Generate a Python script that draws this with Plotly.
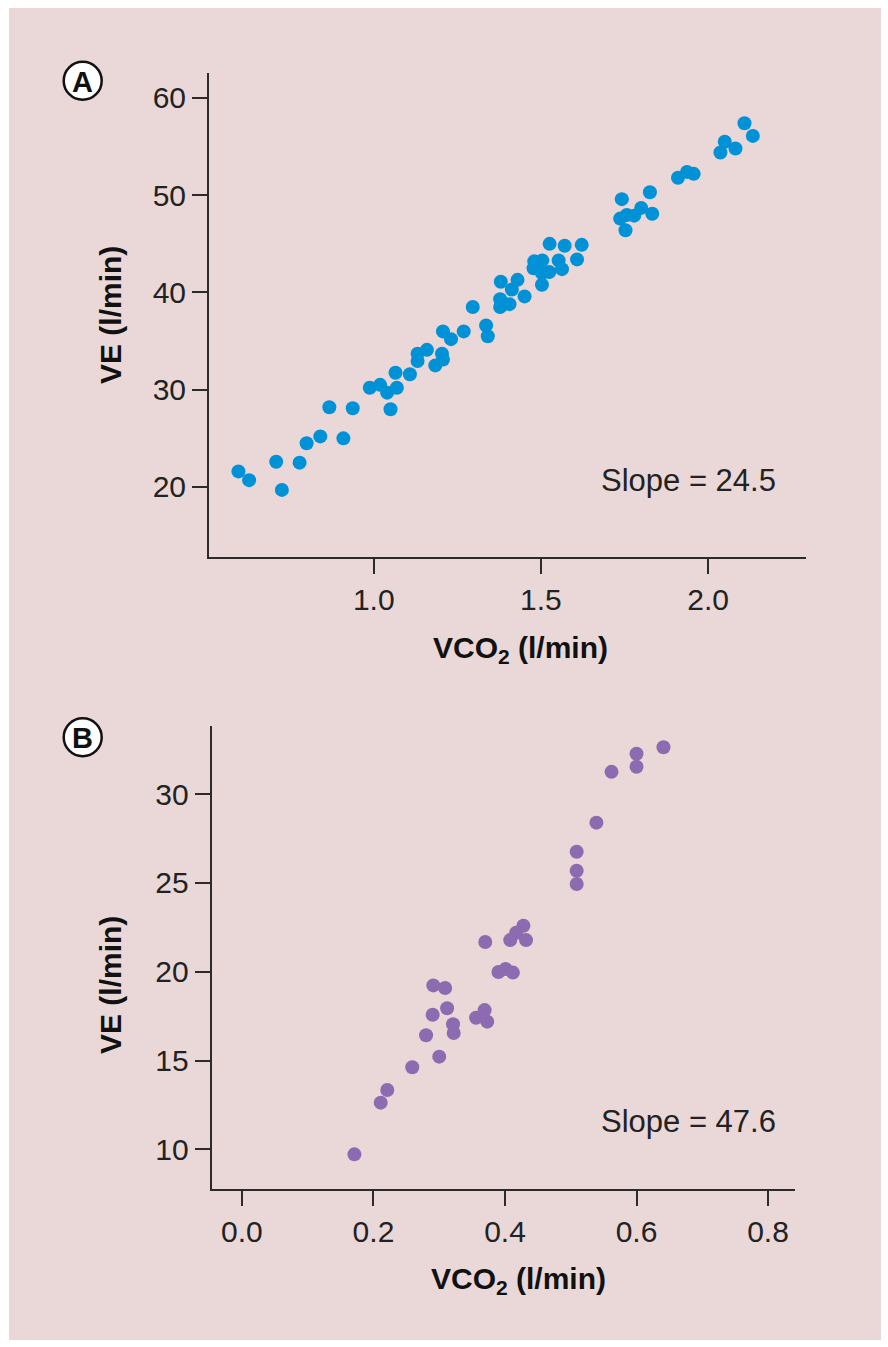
import plotly.graph_objects as go

W, H = 888, 1347

# Panel A data (VCO2 l/min, VE l/min)
a_vco2 = [0.595, 0.627, 0.708, 0.725, 0.778, 0.799, 0.840, 0.867, 0.909, 0.937,
          0.988, 1.019, 1.040, 1.069, 1.050, 1.065, 1.108, 1.131, 1.131, 1.159,
          1.204, 1.207, 1.184, 1.207, 1.231, 1.269, 1.296, 1.336, 1.341, 1.378,
          1.380, 1.378, 1.430, 1.413, 1.406, 1.451, 1.480, 1.478, 1.504, 1.503,
          1.503, 1.526, 1.525, 1.553, 1.563, 1.571, 1.608, 1.622, 1.742, 1.737,
          1.757, 1.753, 1.779, 1.800, 1.833, 1.826, 1.910, 1.937, 1.957, 2.037,
          2.050, 2.082, 2.109, 2.134]
a_ve = [21.6, 20.7, 22.6, 19.7, 22.5, 24.5, 25.2, 28.2, 25.0, 28.1,
        30.2, 30.5, 29.7, 30.2, 28.0, 31.75, 31.6, 33.7, 32.95, 34.1,
        33.7, 33.1, 32.5, 36.0, 35.2, 36.0, 38.5, 36.6, 35.5, 38.5,
        41.1, 39.3, 41.3, 40.3, 38.8, 39.6, 43.2, 42.5, 43.3, 42.0,
        40.8, 45.0, 42.1, 43.3, 42.4, 44.8, 43.4, 44.9, 49.6, 47.6,
        47.97, 46.4, 47.9, 48.7, 48.1, 50.3, 51.8, 52.4, 52.2, 54.4,
        55.5, 54.8, 57.4, 56.1]

# Panel B data
b_vco2 = [0.641, 0.600, 0.600, 0.562, 0.539, 0.509, 0.509, 0.509, 0.428, 0.417,
          0.408, 0.432, 0.370, 0.390, 0.401, 0.412, 0.291, 0.309, 0.290, 0.312,
          0.321, 0.322, 0.280, 0.300, 0.259, 0.221, 0.211, 0.171, 0.356, 0.369,
          0.373]
b_ve = [32.63, 32.27, 31.54, 31.25, 28.39, 26.75, 25.68, 24.94, 22.59, 22.19,
        21.78, 21.78, 21.67, 19.98, 20.15, 19.95, 19.23, 19.08, 17.58, 17.94,
        17.04, 16.55, 16.42, 15.22, 14.62, 13.34, 12.63, 9.72, 17.41, 17.84,
        17.19]

a_xticks = [1.0, 1.5, 2.0]
a_yticks = [20, 30, 40, 50, 60]
b_xticks = [0.0, 0.2, 0.4, 0.6, 0.8]
b_yticks = [10, 15, 20, 25, 30]
slope_a = "Slope = 24.5"
slope_b = "Slope = 47.6"
x_title = "<b>VCO<sub>2</sub> (l/min)</b>"
y_title = "<b>VE (l/min)</b>"

BG = "#ead8d8"
AX = "#2b2b2b"
FONT = "Liberation Sans, Arial, sans-serif"


def px(x):
    return x / W


def py(y):
    return 1 - y / H


fig = go.Figure()
fig.add_trace(go.Scatter(x=a_vco2, y=a_ve, mode="markers",
                         marker=dict(size=14, color="#0091d6"),
                         xaxis="x", yaxis="y", showlegend=False))
fig.add_trace(go.Scatter(x=b_vco2, y=b_ve, mode="markers",
                         marker=dict(size=14, color="#8c6bb1"),
                         xaxis="x2", yaxis="y2", showlegend=False))

axis_common = dict(showline=True, linecolor=AX, linewidth=2, ticks="outside",
                   ticklen=15, tickwidth=1.5, tickcolor=AX, showgrid=False,
                   zeroline=False, tickfont=dict(family=FONT, size=30, color="#222"),
                   fixedrange=True)

fig.update_layout(
    width=W, height=H,
    margin=dict(l=0, r=0, t=0, b=0),
    paper_bgcolor="white",
    plot_bgcolor="white",
    xaxis=dict(domain=[px(209), px(806)], anchor="y", range=[0.507, 2.293],
               tickvals=a_xticks, ticktext=["1.0", "1.5", "2.0"], **axis_common),
    yaxis=dict(domain=[py(557), py(73)], anchor="x", range=[12.8, 62.57],
               tickvals=a_yticks, **axis_common),
    xaxis2=dict(domain=[px(211.7), px(795)], anchor="y2", range=[-0.046, 0.841],
                tickvals=b_xticks, ticktext=["0.0", "0.2", "0.4", "0.6", "0.8"], **axis_common),
    yaxis2=dict(domain=[py(1189), py(726)], anchor="x2", range=[7.77, 33.83],
                tickvals=b_yticks, **axis_common),
)

shapes = [
    dict(type="rect", xref="paper", yref="paper", x0=px(9), x1=px(881), y0=py(1340), y1=py(8),
         fillcolor=BG, line=dict(width=0), layer="below"),
]
for cy in (80.7, 737.3):
    shapes.append(dict(type="circle", xref="paper", yref="paper",
                       x0=px(82.7 - 19), x1=px(82.7 + 19), y0=py(cy + 19), y1=py(cy - 19),
                       fillcolor="white", line=dict(color="#111", width=2.5), layer="above"))
fig.update_layout(shapes=shapes)

ann = []
for label, cy in (("A", 80.7), ("B", 737.3)):
    ann.append(dict(text="<b>" + label + "</b>", x=px(82.7), y=py(cy + 1), xref="paper", yref="paper",
                    showarrow=False, xanchor="center", yanchor="middle",
                    font=dict(family=FONT, size=29, color="#111")))
for cx, cy in ((520, 650), (518, 1280)):
    ann.append(dict(text=x_title, x=px(cx), y=py(cy), xref="paper", yref="paper",
                    showarrow=False, xanchor="center", yanchor="middle",
                    font=dict(family=FONT, size=30, color="#111")))
for cy in (315, 985):
    ann.append(dict(text=y_title, x=px(110), y=py(cy), xref="paper", yref="paper",
                    showarrow=False, xanchor="center", yanchor="middle", textangle=-90,
                    font=dict(family=FONT, size=30, color="#111")))
for txt, cy in ((slope_a, 480), (slope_b, 1121)):
    ann.append(dict(text=txt, x=px(778), y=py(cy), xref="paper", yref="paper",
                    showarrow=False, xanchor="right", yanchor="middle",
                    font=dict(family=FONT, size=31, color="#222")))
fig.update_layout(annotations=ann)

fig.write_html("out.html")
